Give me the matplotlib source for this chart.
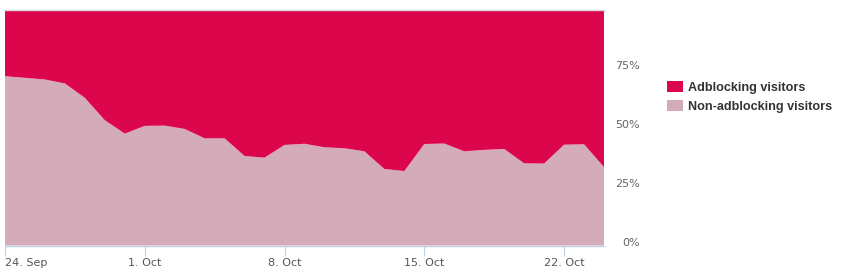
import matplotlib
matplotlib.use("Agg")
import matplotlib.pyplot as plt
import pandas as pd
from matplotlib.patches import Patch

# ---- data ----
dates = pd.date_range("2015-09-24", "2015-10-24", freq="D")
non_adblocking = [71.9, 71.2, 70.5, 68.8, 62.7, 53.2, 47.5, 50.8, 50.9, 49.5,
                  45.5, 45.5, 38.0, 37.3, 42.7, 43.2, 41.7, 41.3, 40.0, 32.5,
                  31.6, 43.1, 43.3, 40.0, 40.6, 41.0, 34.9, 34.8, 42.8, 43.0, 33.3]
adblocking = [100 - v for v in non_adblocking]
series_names = ["Adblocking visitors", "Non-adblocking visitors"]
series_colors = ["#DC064C", "#D4ABB8"]
y_ticks = [0, 25, 50, 75]
y_labels = ["0%", "25%", "50%", "75%"]
x_tick_dates = pd.to_datetime(["2015-09-24", "2015-10-01", "2015-10-08", "2015-10-15", "2015-10-22"])
x_tick_labels = ["24. Sep", "1. Oct", "8. Oct", "15. Oct", "22. Oct"]

W, H = 843, 276
fig = plt.figure(figsize=(W / 100, H / 100), dpi=100)
plt.rcParams["font.family"] = ["DejaVu Sans"]

ax = fig.add_axes([5 / W, 30.5 / H, 599 / W, 235.5 / H])
ax.stackplot(dates, non_adblocking, adblocking,
             colors=[series_colors[1], series_colors[0]], linewidth=0)
ax.set_xlim(dates[0], dates[-1])
ax.set_ylim(0, 100)

for s in ["left", "right"]:
    ax.spines[s].set_visible(False)
ax.spines["top"].set_color("#D8D8D8")
ax.spines["top"].set_linewidth(1)
ax.spines["bottom"].set_color("#C0D0E0")
ax.spines["bottom"].set_linewidth(1)

ax.set_xticks(x_tick_dates)
ax.set_xticklabels(x_tick_labels)
ax.tick_params(axis="x", length=7.2, width=0.8, color="#C0D0E0", direction="out",
               labelsize=8.0, labelcolor="#555555", pad=2)
xl = ax.get_xticklabels()
xl[0].set_ha("left")

ax.yaxis.tick_right()
ax.set_yticks(y_ticks)
ax.set_yticklabels(y_labels)
ax.tick_params(axis="y", length=0, labelsize=8.0, labelcolor="#666666", pad=25.5)
for t in ax.get_yticklabels():
    t.set_ha("right")
    t.set_va("baseline")

handles = [Patch(facecolor=series_colors[0], edgecolor="none"),
           Patch(facecolor=series_colors[1], edgecolor="none")]
leg = fig.legend(handles, series_names, loc="upper left",
                 bbox_to_anchor=(666.5 / W, 1 - 81.5 / H), frameon=False,
                 prop={"family": "Liberation Sans", "weight": "bold", "size": 9.1},
                 handlelength=1.27, handleheight=0.95, handletextpad=0.45,
                 labelspacing=0.45, borderpad=0, borderaxespad=0)
for t in leg.get_texts():
    t.set_color("#333333")

fig.savefig("out.png", dpi=100)
